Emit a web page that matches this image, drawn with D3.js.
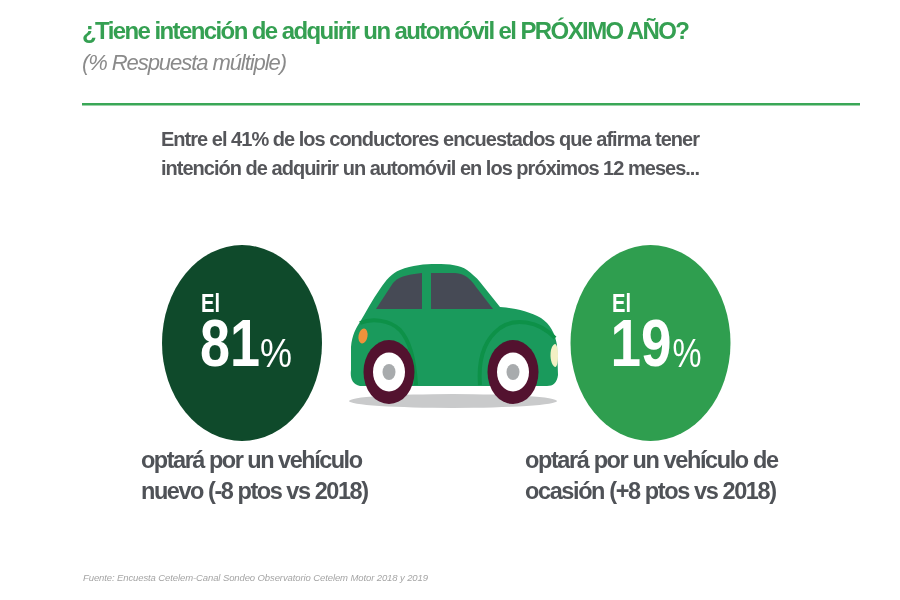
<!DOCTYPE html>
<html>
<head>
<meta charset="utf-8">
<script src="https://cdn.jsdelivr.net/npm/d3@7"></script>
<style>
  html, body { margin: 0; padding: 0; background: #fff; }
  text { font-family: "Liberation Sans", Arial, sans-serif; }
  svg { filter: blur(0.35px); }
</style>
</head>
<body>
<div id="chart"></div>
<script>
// values
let categories = ["nuevo", "ocasion"];
let percents = [81, 19];
let introWord = "El";
let captions = [
    ["optará por un vehículo", "nuevo (-8 ptos vs 2018)"],
    ["optará por un vehículo de", "ocasión (+8 ptos vs 2018)"]
];
let bubbleColors = ["#0f4a2b", "#2f9e4f"];

let width = 900, height = 600;
let svg = d3.select("#chart").append("svg")
    .attr("width", width)
    .attr("height", height)
    .style("display", "block");

// text helper, textLength with "spacing" gives the tight tracking of the original
let label = function (x, y, str, size, fill, len, extra) {
    let t = svg.append("text")
        .attr("x", x)
        .attr("y", y)
        .attr("font-size", size)
        .attr("fill", fill)
        .text(str);
    if (len) t.attr("textLength", len).attr("lengthAdjust", "spacing");
    if (extra) extra(t);
    return t;
};
let bold = function (t) { t.attr("font-weight", "bold"); };
let italic = function (t) { t.attr("font-style", "italic"); };

// header
label(82, 39, "¿Tiene intención de adquirir un automóvil el PRÓXIMO AÑO?", 24, "#35a052", 608, bold);
label(82, 70, "(% Respuesta múltiple)", 22, "#8a8a8a", 205, italic);
svg.append("rect").attr("x", 82).attr("y", 103).attr("width", 778).attr("height", 2.5).attr("fill", "#3aa757");

label(161, 146, "Entre el 41% de los conductores encuestados que afirma tener", 20, "#55565a", 539, bold);
label(161, 175, "intención de adquirir un automóvil en los próximos 12 meses...", 20, "#55565a", 539, bold);

// bubbles
let xScale = d3.scalePoint().domain(categories).range([242, 650.5]);
let ry = 98, rx = 80;

let groups = svg.selectAll(".bubble")
    .data(categories)
    .enter()
    .append("g")
    .attr("class", "bubble");

groups.append("ellipse")
    .attr("cx", function (d) { return xScale(d); })
    .attr("cy", 343)
    .attr("rx", rx)
    .attr("ry", ry)
    .attr("fill", function (d, i) { return bubbleColors[i]; });

// one text per bubble, the left one sits further from the centre
let bubbleText = groups.append("text").attr("fill", "#fff");

bubbleText.append("tspan")
    .attr("x", function (d, i) { return xScale(d) + (i == 0 ? -41 : -38.5); })
    .attr("y", 312)
    .attr("font-size", 25)
    .attr("font-weight", "bold")
    .attr("textLength", 19)
    .attr("lengthAdjust", "spacingAndGlyphs")
    .text(introWord);

bubbleText.append("tspan")
    .attr("x", function (d, i) { return xScale(d) + (i == 0 ? -42 : -40); })
    .attr("y", 366)
    .attr("font-size", 66)
    .attr("font-weight", "bold")
    .attr("textLength", function (d, i) { return i == 0 ? 60 : 61; })
    .attr("lengthAdjust", "spacingAndGlyphs")
    .text(function (d, i) { return percents[i]; });

bubbleText.append("tspan")
    .attr("x", function (d, i) { return xScale(d) + (i == 0 ? 18 : 22); })
    .attr("y", 367)
    .attr("font-size", 40)
    .attr("textLength", function (d, i) { return i == 0 ? 32 : 29; })
    .attr("lengthAdjust", "spacingAndGlyphs")
    .text("%");

// captions under the bubbles
label(141, 468, captions[0][0], 23.5, "#4f5257", 222, bold);
label(141, 499, captions[0][1], 23.5, "#4f5257", 228, bold);
label(525, 468, captions[1][0], 23.5, "#4f5257", 254, bold);
label(525, 499, captions[1][1], 23.5, "#4f5257", 252, bold);

// car illustration
let car = svg.append("g").attr("id", "car");
car.append("ellipse").attr("cx", 453).attr("cy", 401).attr("rx", 104).attr("ry", 7).attr("fill", "#c9cacb");
car.append("path")
    .attr("fill", "#1a9a5c")
    .attr("d", "M360,386 C352,384 350,378 351,370 L351,347 C352,335 356,328 360,322 C366,312 372,300 380,289 C386,280 392,273 400,270 C412,265 425,264 436,264 C450,264 460,265 467,270 C472,274 476,277 480,282 L500,307 C515,308 530,312 541,318 C550,324 555,333 557,345 L558,375 C557,383 553,386 547,386 Z");
// wheel arches
car.append("path")
    .attr("fill", "none").attr("stroke", "#0d9148").attr("stroke-width", 4)
    .attr("d", "M360,323 C372,318 390,320 400,330 C411,342 415,365 416,385");
car.append("path")
    .attr("fill", "none").attr("stroke", "#0d9148").attr("stroke-width", 4)
    .attr("d", "M480,385 C478,360 484,340 500,328 C514,318 538,320 555,338");
// windows
car.append("path").attr("fill", "#464a55")
    .attr("d", "M376,309 L393,283 C398,277 405,275 422,273 L422,309 Z");
car.append("path").attr("fill", "#464a55")
    .attr("d", "M431,273 L455,273 C465,274 470,278 476,287 L493,309 L431,309 Z");
// lights
car.append("ellipse").attr("cx", 363).attr("cy", 336).attr("rx", 4.5).attr("ry", 7.5)
    .attr("transform", "rotate(10 363 336)").attr("fill", "#f0923b");
car.append("path").attr("fill", "#f3f0c4")
    .attr("d", "M555,344 C549,346 549,364 555,367 C559,368 559,344 555,344 Z");
// wheels
[389, 513].forEach(function (cx) {
    car.append("ellipse").attr("cx", cx).attr("cy", 372).attr("rx", 25.5).attr("ry", 32).attr("fill", "#53122f");
    car.append("ellipse").attr("cx", cx).attr("cy", 372).attr("rx", 16).attr("ry", 19.5).attr("fill", "#fff");
    car.append("ellipse").attr("cx", cx).attr("cy", 372).attr("rx", 6.5).attr("ry", 8).attr("fill", "#a8abad");
});

// source
label(83, 581, "Fuente: Encuesta Cetelem-Canal Sondeo Observatorio Cetelem Motor 2018 y 2019", 9.5, "#a5a5a5", 345, italic);
</script>
</body>
</html>
